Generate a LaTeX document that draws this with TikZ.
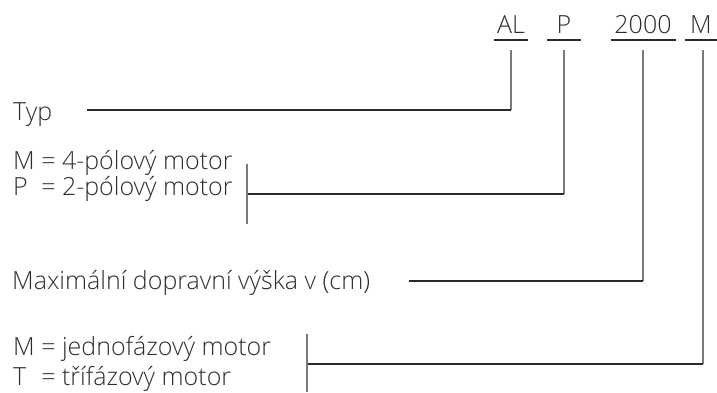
\documentclass[tikz,border=0pt]{standalone}
\usepackage{fontspec}
\setmainfont{Open Sans}[UprightFont=* Light]
\definecolor{txtc}{HTML}{2E2E2E}
\definecolor{vlc}{HTML}{7A7A7A}
\definecolor{hlc}{HTML}{2A2A2A}
\begin{document}
\begin{tikzpicture}[x=1pt,y=-1pt,
  txt/.style={anchor=base west,inner sep=0pt,text=txtc,font=\fontsize{25}{28}\selectfont},
  code/.style={anchor=base,inner sep=0pt,text=txtc,font=\fontsize{25}{28}\selectfont},
  uline/.style={draw=hlc,line width=1.4pt},
  vline/.style={draw=vlc,line width=1.6pt},
  hline/.style={draw=hlc,line width=1.4pt}]
\useasboundingbox (0,0) rectangle (717,392);
% code letters
\node[code] (al) at (511,33) {AL};
\node[code] (p) at (564,33) {P};
\node[code] (n) at (643,33) {2000};
\node[code] (m) at (701,33) {M};
% underlines
\coordinate (alA) at (494,40); \coordinate (alB) at (528,40);
\coordinate (pA) at (547,40);  \coordinate (pB) at (581,40);
\coordinate (nA) at (611,40);  \coordinate (nB) at (676,40);
\coordinate (mA) at (685,40);  \coordinate (mB) at (717,40);
\draw[uline] (alA) -- (alB);
\draw[uline] (pA) -- (pB);
\draw[uline] (nA) -- (nB);
\draw[uline] (mA) -- (mB);
% descriptions
\node[txt] (typ) at (13,120) {Typ};
\node[txt] (m4) at (13,169) {M = 4-pólový motor};
\node[txt] (p2) at (13,195) {\rlap{P}\phantom{M} = 2-pólový motor};
\node[txt] (max) at (12,289) {Maximální dopravní výška v (cm)};
\node[txt] (mj) at (13,355) {M = jednofázový motor};
\node[txt] (tt) at (13,385) {\rlap{T}\phantom{M} = třífázový motor};
% connector coordinates
\coordinate (alT) at (511,50);  \coordinate (alC) at (511,110); \coordinate (typE) at (87,110);
\coordinate (pT) at (564,50);   \coordinate (pC) at (564,194);
\coordinate (barP1) at (247,164); \coordinate (barP2) at (247,224); \coordinate (barPC) at (247,194);
\coordinate (nT) at (643,50);   \coordinate (nC) at (643,281); \coordinate (maxE) at (409,281);
\coordinate (mT) at (703,50);   \coordinate (mC) at (703,364);
\coordinate (barM1) at (307,334); \coordinate (barM2) at (307,392); \coordinate (barMC) at (307,364);
% connectors
\draw[vline] (alT) -- (alC);
\draw[hline] (alC) -- (typE);
\draw[vline] (pT) -- (pC);
\draw[hline] (pC) -- (barPC);
\draw[vline] (barP1) -- (barP2);
\draw[vline] (nT) -- (nC);
\draw[hline] (nC) -- (maxE);
\draw[vline] (mT) -- (mC);
\draw[hline] (mC) -- (barMC);
\draw[vline] (barM1) -- (barM2);
\end{tikzpicture}
\end{document}
